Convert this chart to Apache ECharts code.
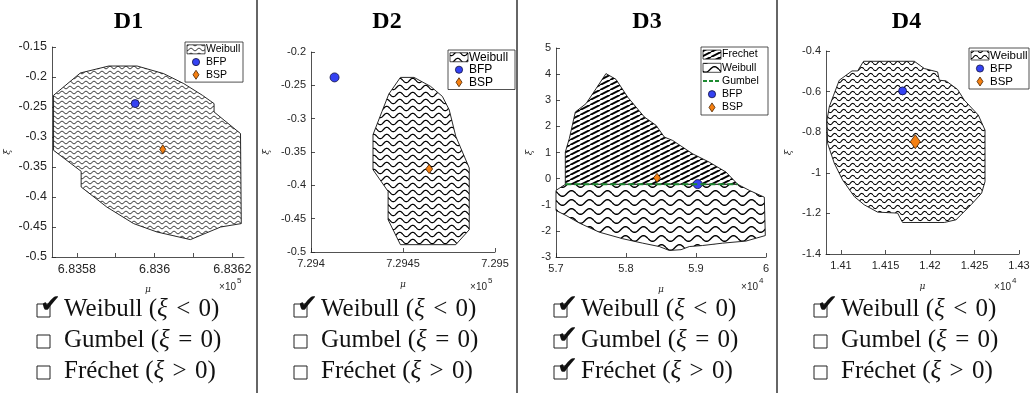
<!DOCTYPE html>
<html>
<head>
<meta charset="utf-8">
<script src="https://cdn.jsdelivr.net/npm/echarts@6/dist/echarts.min.js"></script>
<style>
html, body { margin: 0; padding: 0; background: #fff; }
#chart { width: 1036px; height: 395px; }
</style>
</head>
<body>
<div id="chart"></div>
<script>
// ---- data (mu in units of the axis multiplier) ----
var titles = ['D1', 'D2', 'D3', 'D4'];
var multipliers = ['5', '5', '4', '4'];

var d1Weibull = [[6.83574,-0.2305],[6.835809,-0.1933],[6.835882,-0.1817],[6.835955,-0.1817],[6.836023,-0.1943],
    [6.836075,-0.211],[6.836123,-0.2305],[6.836153,-0.2443],[6.836153,-0.2583],[6.836221,-0.2943],[6.836223,-0.4443],
    [6.83617,-0.45],[6.836092,-0.471],[6.836006,-0.4583],[6.835946,-0.4443],[6.835877,-0.4167],[6.835811,-0.3833],
    [6.835811,-0.3572],[6.83574,-0.3222]];
var d1BFP = [[6.83595, -0.2443]];
var d1BSP = [[6.836021, -0.3205]];

var d2Weibull = [[7.294486,-0.2381],[7.29456,-0.2381],[7.29465,-0.2516],[7.294714,-0.2666],[7.294751,-0.2866],
    [7.294787,-0.3266],[7.29486,-0.374],[7.29486,-0.4666],[7.294787,-0.489],[7.294486,-0.489],[7.294419,-0.4516],
    [7.294419,-0.4091],[7.294337,-0.3766],[7.294337,-0.324],[7.294386,-0.2891],[7.294423,-0.263]];
var d2BFP = [[7.294128, -0.2381]];
var d2BSP = [[7.294642, -0.3755]];

var d3Frechet = [[5.7133,-0.22],[5.7133,1.015],[5.719,1.53],[5.7276,2.55],[5.7429,2.87],[5.7571,3.44],[5.7714,4.02],
    [5.7857,3.8],[5.8024,3.12],[5.8262,2.36],[5.8429,2.04],[5.8548,1.59],[5.8667,1.46],[5.8952,0.95],[5.919,0.63],
    [5.9429,0.25],[5.9596,-0.22]];
var d3Weibull = [[5.7,-0.45],[5.7133,-0.22],[5.9596,-0.22],[5.9762,-0.45],[5.9976,-0.71],[5.999,-2.18],[5.9714,-2.39],
    [5.938,-2.47],[5.9095,-2.56],[5.8905,-2.6],[5.8786,-2.72],[5.8619,-2.75],[5.8476,-2.6],[5.8238,-2.47],[5.7952,-2.3],
    [5.7619,-2.05],[5.7333,-1.7],[5.7143,-1.41],[5.7,-1.22]];
var d3Gumbel = [[5.7133,-0.22],[5.9596,-0.22]];
var d3BFP = [[5.9024, -0.21]];
var d3BSP = [[5.8443, 0.03]];

var d4Weibull = [[1.408427,-0.7404],[1.408685,-0.675],[1.409169,-0.6176],[1.409809,-0.5439],[1.411236,-0.4982],
    [1.411865,-0.4982],[1.412539,-0.4506],[1.418236,-0.4506],[1.41936,-0.4864],[1.420854,-0.5031],[1.421045,-0.5439],
    [1.421798,-0.5473],[1.423101,-0.5896],[1.423854,-0.6421],[1.425427,-0.7158],[1.42618,-0.7895],[1.42618,-1.0434],
    [1.425798,-1.1004],[1.424607,-1.1579],[1.422921,-1.2315],[1.421607,-1.2448],[1.416921,-1.2448],[1.41636,-1.1986],
    [1.414112,-1.1937],[1.412618,-1.1579],[1.411494,-1.1171],[1.41018,-1.0351],[1.409247,-0.953],[1.408494,-0.8548]];
var d4BFP = [[1.416921, -0.5965]];
var d4BSP = [[1.418349, -0.847]];

// axis ranges and ticks
var xRanges = [[6.835736, 6.83623], [7.294, 7.295], [5.7, 6.0], [1.408315, 1.43]];
var yRanges = [[-0.5, -0.15], [-0.5, -0.2], [-3, 5], [-1.4, -0.4]];
var xTicks = [[6.8358, 6.8359, 6.836, 6.8361, 6.8362], [7.294, 7.2945, 7.295], [5.7, 5.8, 5.9, 6], [1.41, 1.415, 1.42, 1.425, 1.43]];
var xTickLabels = [[6.8358, 6.836, 6.8362], [7.294, 7.2945, 7.295], [5.7, 5.8, 5.9, 6], [1.41, 1.415, 1.42, 1.425, 1.43]];
var yTicks = [[-0.5, -0.45, -0.4, -0.35, -0.3, -0.25, -0.2, -0.15], [-0.5, -0.45, -0.4, -0.35, -0.3, -0.25, -0.2],
    [-3, -2, -1, 0, 1, 2, 3, 4, 5], [-1.4, -1.2, -1, -0.8, -0.6, -0.4]];

var legendItems = [['Weibull', 'BFP', 'BSP'], ['Weibull', 'BFP', 'BSP'],
    ['Frechet', 'Weibull', 'Gumbel', 'BFP', 'BSP'], ['Weibull', 'BFP', 'BSP']];

var typeNames = ['Weibull', 'Gumbel', 'Fréchet'];
var typeSigns = ['<', '=', '>'];
var typeChecked = [[1, 0, 0], [1, 0, 0], [1, 1, 1], [1, 0, 0]];

// ---- layout ----
var grids = [
    {left: 52, top: 47, width: 192, height: 210},
    {left: 311, top: 52, width: 184, height: 200},
    {left: 556, top: 48, width: 210, height: 209},
    {left: 826, top: 51, width: 193, height: 203}
];
var panelLeft = [0, 257, 517, 777];
var panelRight = [257, 517, 777, 1036];
var tickFont = [12.5, 11, 11, 11];
var yNameGap = [40, 40, 22, 33];
var legendBox = [
    {x: 185, y: 42, w: 58, rowH: 12.7, font: 10.5},
    {x: 448, y: 50, w: 67, rowH: 12.5, font: 12},
    {x: 701, y: 47, w: 67, rowH: 13.2, font: 10.5},
    {x: 969, y: 48, w: 60, rowH: 13, font: 11.5}
];
var BLUE = '#3442f2', ORANGE = '#f57f10', GREEN = '#1d8a30', AX = '#262626';

function wavePattern(period, gap, amp, lw) {
    var c = document.createElement('canvas');
    c.width = period; c.height = gap;
    var ctx = c.getContext('2d');
    ctx.fillStyle = '#fff';
    ctx.fillRect(0, 0, period, gap);
    ctx.strokeStyle = '#000';
    ctx.lineWidth = lw;
    ctx.beginPath();
    for (var x = 0; x <= period; x += 0.25) {
        var y = gap / 2 + amp * Math.sin(2 * Math.PI * x / period);
        if (x === 0) ctx.moveTo(x, y); else ctx.lineTo(x, y);
    }
    ctx.stroke();
    return {image: c, repeat: 'repeat'};
}
function hatchPattern(w, h, lw) {
    var c = document.createElement('canvas');
    c.width = w; c.height = h;
    var ctx = c.getContext('2d');
    ctx.fillStyle = '#fff';
    ctx.fillRect(0, 0, w, h);
    ctx.strokeStyle = '#000';
    ctx.lineWidth = lw;
    for (var k = -1; k <= 1; k++) {
        ctx.beginPath();
        ctx.moveTo(k * w, h);
        ctx.lineTo((k + 1) * w, 0);
        ctx.stroke();
    }
    return {image: c, repeat: 'repeat'};
}

var waves = [wavePattern(8, 5, 1.2, 1), wavePattern(13, 7, 2.2, 1.2), wavePattern(18, 9, 2.8, 1.4), wavePattern(9, 6, 1.6, 1.1)];
var hatch = hatchPattern(10, 5, 2);

function polySeries(i, pts, fill) {
    return {
        type: 'custom', xAxisIndex: i, yAxisIndex: i, data: pts, silent: true,
        renderItem: function (params, api) {
            if (params.dataIndex !== 0) return null;
            var points = pts.map(function (p) { return api.coord(p); });
            return {type: 'polygon', shape: {points: points}, style: {fill: fill, stroke: '#111', lineWidth: 0.9}};
        }
    };
}
function pointSeries(i, pts, kind, size) {
    return {
        type: 'scatter', xAxisIndex: i, yAxisIndex: i, data: pts, silent: true,
        symbol: kind === 'BFP' ? 'circle' : 'diamond',
        symbolSize: size,
        itemStyle: {
            color: kind === 'BFP' ? BLUE : ORANGE,
            borderColor: kind === 'BFP' ? '#101040' : '#4a2300',
            borderWidth: 0.8, opacity: 1
        }
    };
}
function fmt(v) { return String(+v.toFixed(6)); }

var xAxes = [], yAxes = [];
for (var i = 0; i < 4; i++) {
    xAxes.push({
        type: 'value', gridIndex: i, min: xRanges[i][0], max: xRanges[i][1],
        axisLine: {show: true, onZero: false, lineStyle: {color: AX, width: 0.8}},
        axisTick: {show: true, inside: true, length: 4, customValues: xTicks[i], lineStyle: {color: AX, width: 0.8}},
        axisLabel: {customValues: xTickLabels[i], formatter: fmt, color: AX, fontSize: tickFont[i],
            fontFamily: 'Liberation Sans', margin: 6},
        splitLine: {show: false},
        name: 'μ', nameLocation: 'middle', nameGap: 28,
        nameTextStyle: {fontStyle: 'italic', fontSize: 9, color: AX, fontFamily: 'DejaVu Serif'}
    });
    yAxes.push({
        type: 'value', gridIndex: i, min: yRanges[i][0], max: yRanges[i][1],
        axisLine: {show: true, onZero: false, lineStyle: {color: AX, width: 0.8}},
        axisTick: {show: true, inside: true, length: 4, customValues: yTicks[i], lineStyle: {color: AX, width: 0.8}},
        axisLabel: {customValues: yTicks[i], formatter: fmt, color: AX, fontSize: tickFont[i],
            fontFamily: 'Liberation Sans', margin: 5},
        splitLine: {show: false},
        name: 'ξ', nameLocation: 'middle', nameGap: yNameGap[i], nameRotate: 90,
        nameTextStyle: {fontStyle: 'italic', fontSize: 10, color: AX, fontFamily: 'DejaVu Serif'}
    });
}

var series = [
    polySeries(0, d1Weibull, waves[0]),
    pointSeries(0, d1BFP, 'BFP', 8),
    pointSeries(0, d1BSP, 'BSP', [6, 9]),
    polySeries(1, d2Weibull, waves[1]),
    pointSeries(1, d2BFP, 'BFP', 9),
    pointSeries(1, d2BSP, 'BSP', [7, 9]),
    polySeries(2, d3Frechet, hatch),
    polySeries(2, d3Weibull, waves[2]),
    {type: 'line', xAxisIndex: 2, yAxisIndex: 2, data: d3Gumbel, symbol: 'none', silent: true,
        lineStyle: {color: GREEN, width: 2, type: [6, 3]}},
    pointSeries(2, d3BFP, 'BFP', 9),
    pointSeries(2, d3BSP, 'BSP', [7, 9]),
    polySeries(3, d4Weibull, waves[3]),
    pointSeries(3, d4BFP, 'BFP', 8),
    pointSeries(3, d4BSP, 'BSP', [10, 14])
];

// ---- decorations: titles, legends, multipliers, check lists, separators ----
var graphics = [];
for (var p = 0; p < 4; p++) {
    var pc = (panelLeft[p] + panelRight[p]) / 2;
    graphics.push({type: 'text', x: pc, y: 22, style: {text: titles[p], fontSize: 24, fontWeight: 'bold',
        fontFamily: 'Liberation Serif', fill: '#000', align: 'center', verticalAlign: 'middle'}});

    // multiplier x10^n at the right end of the x axis
    var gx = grids[p].left + grids[p].width;
    graphics.push({type: 'text', x: gx - 8, y: 287, style: {text: '×10', fontSize: 10, fontFamily: 'Liberation Sans',
        fill: AX, align: 'right', verticalAlign: 'middle'}});
    graphics.push({type: 'text', x: gx - 7, y: 281, style: {text: multipliers[p], fontSize: 8, fontFamily: 'Liberation Sans',
        fill: AX, align: 'left', verticalAlign: 'middle'}});

    // legend
    var lb = legendBox[p], items = legendItems[p];
    var kids = [{type: 'rect', shape: {x: 0, y: 0, width: lb.w, height: items.length * lb.rowH + 2},
        style: {fill: '#fff', stroke: AX, lineWidth: 0.8}}];
    items.forEach(function (name, k) {
        var cy = 1 + lb.rowH * k + lb.rowH / 2;
        if (name === 'Weibull' || name === 'Frechet') {
            kids.push({type: 'rect', shape: {x: 2, y: cy - 4.5, width: 18, height: 9},
                style: {fill: name === 'Frechet' ? hatch : waves[p], stroke: '#000', lineWidth: 0.7}});
        } else if (name === 'Gumbel') {
            kids.push({type: 'line', shape: {x1: 2, y1: cy, x2: 20, y2: cy},
                style: {stroke: GREEN, lineWidth: 2, lineDash: [4, 2]}});
        } else if (name === 'BFP') {
            kids.push({type: 'circle', shape: {cx: 11, cy: cy, r: 3.6}, style: {fill: BLUE, stroke: '#101040', lineWidth: 0.8}});
        } else {
            kids.push({type: 'polygon', shape: {points: [[11, cy - 4.5], [14, cy], [11, cy + 4.5], [8, cy]]},
                style: {fill: ORANGE, stroke: '#4a2300', lineWidth: 0.8}});
        }
        kids.push({type: 'text', x: 21, y: cy, style: {text: name, fontSize: lb.font, fontFamily: 'Liberation Sans',
            fill: '#000', align: 'left', verticalAlign: 'middle'}});
    });
    graphics.push({type: 'group', x: lb.x, y: lb.y, children: kids});

    // check list of distribution types
    for (var k = 0; k < 3; k++) {
        var cy = 309 + 31 * k;
        var bx = panelLeft[p] + 37;
        graphics.push({type: 'rect', shape: {x: bx, y: cy - 5, width: 13, height: 13},
            style: {fill: 'none', stroke: '#222', lineWidth: 1}});
        if (typeChecked[p][k]) {
            graphics.push({type: 'text', x: bx + 3, y: cy + 9, style: {text: '✔', fontSize: 25, fontFamily: 'DejaVu Sans',
                fill: '#111', align: 'left', verticalAlign: 'bottom'}});
        }
        graphics.push({type: 'text', x: panelLeft[p] + 64, y: cy, style: {
            text: typeNames[k] + ' ({i|ξ}\u2004' + typeSigns[k] + '\u20040)',
            fontSize: 25, fontFamily: 'Liberation Serif', fill: '#111', align: 'left', verticalAlign: 'middle',
            rich: {i: {fontStyle: 'italic', fontSize: 25, fontFamily: 'Liberation Serif', fill: '#111'}}
        }});
    }
}
[257, 517, 777].forEach(function (x) {
    graphics.push({type: 'line', shape: {x1: x, y1: 0, x2: x, y2: 393}, style: {stroke: '#333', lineWidth: 1.5}});
});

var chart = echarts.init(document.getElementById('chart'));
chart.setOption({
    animation: false,
    backgroundColor: '#fff',
    grid: grids,
    xAxis: xAxes,
    yAxis: yAxes,
    series: series,
    graphic: {elements: graphics}
});
</script>
</body>
</html>
